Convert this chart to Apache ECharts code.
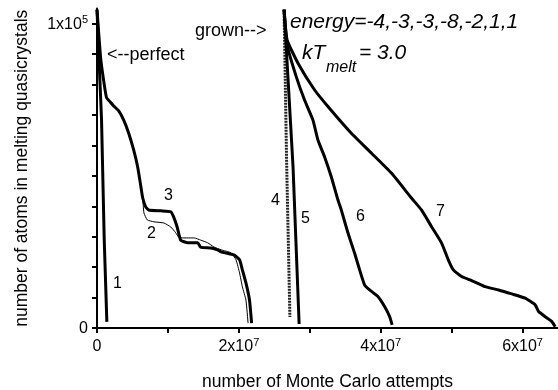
<!DOCTYPE html>
<html>
<head>
<meta charset="utf-8">
<script src="https://cdn.jsdelivr.net/npm/echarts@6/dist/echarts.min.js"></script>
<style>html,body{margin:0;padding:0;background:#fff;}#c{width:558px;height:390px;}</style>
</head>
<body>
<div id="c"></div>
<script>
// ---- data (x: Monte Carlo attempts, y: atoms in melting quasicrystals) ----
var curve1 = [[0,104600],[640000,68400],[1020000,28900],[1390000,2000]];
var curve2 = [[0,104600],[495000,89100],[920000,81600],[1340000,75700],[1870000,74300],[2330000,73000],[3040000,71400],[3750000,68400],[4460000,64100],[5160000,58600],[5730000,53000],[6150000,47000],[6440000,42800],[6620000,37800],[7100000,35500],[8030000,34900],[9450000,34500],[10400000,33200],[11100000,31300],[11500000,29900],[12100000,29600],[13700000,29600],[14600000,28900],[15600000,28000],[16500000,26600],[17500000,25700],[18900000,24700],[19600000,22400],[20100000,18100],[20500000,13500],[21000000,9200],[21300000,1600]];
var curve3 = [[0,104600],[495000,89100],[920000,81600],[1340000,75700],[1870000,74300],[2330000,73000],[3040000,71400],[3750000,68400],[4460000,64100],[5160000,58600],[5730000,53000],[6150000,47000],[6440000,42800],[6860000,39800],[7280000,38800],[8980000,38500],[10400000,38200],[10800000,36500],[11300000,33200],[11800000,28900],[12800000,28000],[14200000,28000],[14600000,26600],[16100000,26300],[17000000,25700],[17500000,25000],[19300000,24000],[20100000,22400],[20500000,19100],[21000000,14800],[21500000,9200],[21800000,1600]];
var curve4 = [[26380000,104600],[26730000,55300],[27200000,3600]];
var curve5 = [[26380000,104600],[27640000,53000],[28500000,1300]];
var curve6 = [[26380000,104600],[26800000,93100],[28080000,82700],[29250000,75000],[30440000,68400],[31150000,61800],[32080000,56300],[33020000,49800],[33970000,42100],[34440000,38800],[35390000,31200],[36320000,24600],[37030000,19100],[37740000,14100],[38440000,12500],[39630000,10300],[40570000,7000],[41270000,3700],[41610000,1000]];
var curve7 = [[26380000,104600],[26800000,94700],[28320000,87100],[30660000,78300],[32560000,72800],[35860000,64000],[38680000,57500],[41510000,50900],[44340000,42700],[45750000,38800],[47170000,33300],[48590000,27900],[49530000,22400],[50240000,19100],[51410000,16900],[52830000,15600],[54710000,13600],[56610000,12500],[58490000,11200],[60370000,9800],[61780000,7600],[62260000,5400],[63200000,3700],[64140000,2100],[64610000,400]];
var xTicks = [0,10000000,20000000,30000000,40000000,50000000,60000000];
var xLabels = [0,20000000,40000000,60000000];
var yTicks = [0,10000,20000,30000,40000,50000,60000,70000,80000,90000,100000];
var yLabels = [0,100000];

var FONT = '"Liberation Sans", Arial, Helvetica, sans-serif';
function sci(v){
  if (v === 0) return '{n|0}';
  var e = Math.floor(Math.log10(v) + 1e-9);
  var m = Math.round(v / Math.pow(10, e));
  return '{n|' + m + 'x10}{sup|' + e + '}';
}
var richSup = {
  n: { fontSize: 16, fontFamily: FONT, color: '#000', lineHeight: 18, verticalAlign: 'bottom' },
  sup: { fontSize: 11, fontFamily: FONT, color: '#000', verticalAlign: 'top', lineHeight: 11 }
};

var chart = echarts.init(document.getElementById('c'), null, {renderer: 'canvas'});
function line(data, w, type, color, smooth){
  return { type: 'line', data: data, showSymbol: false, symbol: 'none', animation: false,
           smooth: smooth || 0,
           lineStyle: { width: w, color: color || '#000', type: type || 'solid' } };
}
chart.setOption({
  animation: false,
  backgroundColor: '#fff',
  grid: { left: 97, right: 0, top: 8.5, bottom: 62, containLabel: false, outerBoundsMode: 'none' },
  xAxis: {
    type: 'value', min: 0, max: 65000000,
    name: 'number of Monte Carlo attempts', nameLocation: 'middle', nameGap: 45,
    nameTextStyle: { fontFamily: FONT, fontSize: 17.5, color: '#000' },
    splitLine: { show: false },
    axisLine: { lineStyle: { color: '#000', width: 2 } },
    axisTick: { show: true, length: 5, lineStyle: { color: '#000', width: 2 }, customValues: xTicks },
    axisLabel: { customValues: xLabels, formatter: sci, fontFamily: FONT, fontSize: 16, color: '#000', margin: 9,
                 rich: richSup }
  },
  yAxis: {
    type: 'value', min: 0, max: 105000,
    name: 'number of atoms in melting quasicrystals', nameLocation: 'middle', nameGap: 66, nameRotate: 90,
    nameTextStyle: { fontFamily: FONT, fontSize: 17.5, color: '#000' },
    splitLine: { show: false },
    axisLine: { show: true, lineStyle: { color: '#000', width: 2 } },
    axisTick: { show: true, length: 5, lineStyle: { color: '#000', width: 2 }, customValues: yTicks },
    axisLabel: { customValues: yLabels, formatter: sci, fontFamily: FONT, fontSize: 16, color: '#000', margin: 9,
                 rich: richSup }
  },
  series: [
    line(curve1, 3),
    line(curve2, 1, 'solid', '#000', 0.15),
    line(curve3, 3, 'solid', '#000', 0.15),
    line(curve4, 3, [2, 1], '#222'),
    line(curve5, 3),
    line(curve6, 3, 'solid', '#000', 0.15),
    line(curve7, 3, 'solid', '#000', 0.15)
  ],
  graphic: [
    { type: 'text', left: 107, top: 46, style: { text: '<--perfect', font: '18px ' + FONT, fill: '#000' } },
    { type: 'text', left: 195, top: 22, style: { text: 'grown-->', font: '18px ' + FONT, fill: '#000' } },
    { type: 'text', left: 290, top: 12, style: { text: 'energy=-4,-3,-3,-8,-2,1,1', font: 'italic 21px ' + FONT, fill: '#000' } },
    { type: 'text', left: 302, top: 43, style: { text: 'kT', font: 'italic 21px ' + FONT, fill: '#000' } },
    { type: 'text', left: 326, top: 60, style: { text: 'melt', font: 'italic 16px ' + FONT, fill: '#000' } },
    { type: 'text', left: 359, top: 43, style: { text: '= 3.0', font: 'italic 21px ' + FONT, fill: '#000' } },
    { type: 'text', left: 113, top: 276, style: { text: '1', font: '16px ' + FONT, fill: '#000' } },
    { type: 'text', left: 147, top: 226, style: { text: '2', font: '16px ' + FONT, fill: '#000' } },
    { type: 'text', left: 164, top: 188, style: { text: '3', font: '16px ' + FONT, fill: '#000' } },
    { type: 'text', left: 271, top: 193, style: { text: '4', font: '16px ' + FONT, fill: '#000' } },
    { type: 'text', left: 301, top: 211, style: { text: '5', font: '16px ' + FONT, fill: '#000' } },
    { type: 'text', left: 356, top: 209, style: { text: '6', font: '16px ' + FONT, fill: '#000' } },
    { type: 'text', left: 436, top: 204, style: { text: '7', font: '16px ' + FONT, fill: '#000' } }
  ]
});
</script>
</body>
</html>
